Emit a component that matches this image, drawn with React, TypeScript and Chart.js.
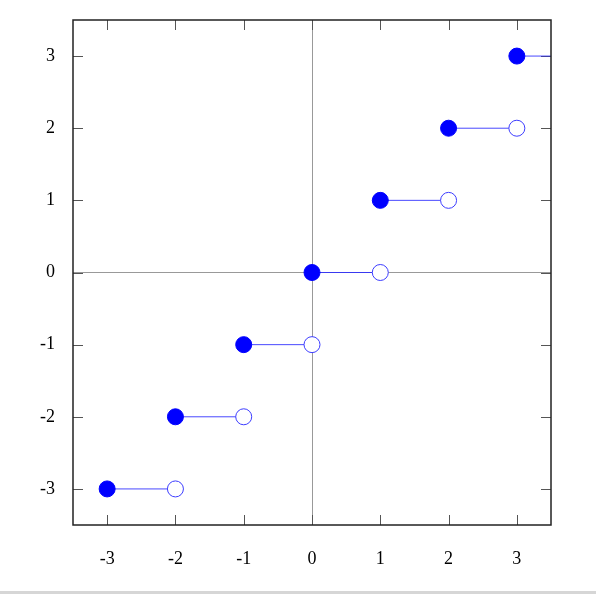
import React, { useEffect, useRef } from "react";
import { Chart, registerables } from "chart.js";

Chart.register(...registerables);

const stepStarts = [-3, -2, -1, 0, 1, 2, 3];
const stepValues = [-3, -2, -1, 0, 1, 2, 3];
const stepEnds = [-2, -1, 0, 1, 2, 3, 4];
const tickValues = [-3, -2, -1, 0, 1, 2, 3];
const axisMin = -3.5;
const axisMax = 3.5;

const BLUE = "#0000ff";

const framePlugin = {
  id: "frame",
  beforeDatasetsDraw(chart: any) {
    const { ctx, chartArea: a, scales } = chart;
    ctx.save();
    ctx.strokeStyle = "#555";
    ctx.lineWidth = 1;
    const tl = 10;
    for (const v of tickValues) {
      const x = Math.round(scales.x.getPixelForValue(v)) + 0.5;
      ctx.beginPath();
      ctx.moveTo(x, a.top);
      ctx.lineTo(x, a.top + tl);
      ctx.moveTo(x, a.bottom);
      ctx.lineTo(x, a.bottom - tl);
      ctx.stroke();
      const y = Math.round(scales.y.getPixelForValue(v)) + 0.5;
      ctx.beginPath();
      ctx.moveTo(a.left, y);
      ctx.lineTo(a.left + tl, y);
      ctx.moveTo(a.right, y);
      ctx.lineTo(a.right - tl, y);
      ctx.stroke();
    }
    ctx.restore();
  },
  afterDatasetsDraw(chart: any) {
    const { ctx, chartArea: a } = chart;
    ctx.save();
    ctx.strokeStyle = "#222";
    ctx.lineWidth = 1.5;
    ctx.strokeRect(a.left, a.top, a.right - a.left, a.bottom - a.top);
    ctx.restore();
  },
};

export default function App() {
  const ref = useRef<HTMLCanvasElement>(null);
  useEffect(() => {
    if (!ref.current) return;
    const segs = stepStarts.map((s, i) => ({
      type: "line" as const,
      data: [
        { x: s, y: stepValues[i] },
        { x: stepEnds[i], y: stepValues[i] },
      ],
      borderColor: "rgba(40,40,255,0.85)",
      borderWidth: 1,
      pointRadius: 0,
      showLine: true,
      order: 3,
    }));
    const chart = new Chart(ref.current, {
      type: "scatter",
      data: {
        datasets: [
          ...segs,
          {
            type: "scatter" as const,
            data: stepEnds.map((e, i) => ({ x: e, y: stepValues[i] })),
            pointRadius: 8,
            pointBackgroundColor: "#ffffff",
            pointBorderColor: "rgba(60,60,255,1)",
            pointBorderWidth: 1,
            order: 2,
          },
          {
            type: "scatter" as const,
            data: stepStarts.map((s, i) => ({ x: s, y: stepValues[i] })),
            pointRadius: 8,
            pointBackgroundColor: BLUE,
            pointBorderColor: BLUE,
            pointBorderWidth: 1,
            order: 1,
          },
        ] as any,
      },
      options: {
        animation: false,
        responsive: false,
        maintainAspectRatio: false,
        layout: { padding: { top: 20, right: 45, left: 0, bottom: 0 } },
        plugins: { legend: { display: false }, tooltip: { enabled: false } },
        scales: {
          x: {
            type: "linear",
            min: axisMin,
            max: axisMax,
            afterBuildTicks: (s: any) => {
              s.ticks = tickValues.map((v) => ({ value: v }));
            },
            afterFit: (s: any) => {
              s.height = 69;
              s.paddingLeft = 0;
              s.paddingRight = 0;
            },
            border: { display: false },
            grid: {
              drawTicks: false,
              color: (c: any) => (c.tick && c.tick.value === 0 ? "#999" : "transparent"),
              lineWidth: 1,
            },
            ticks: {
              padding: 23,
              color: "#000",
              font: { family: "'Liberation Serif', 'DejaVu Serif', serif", size: 18 },
              callback: (v: any) => String(v),
            },
          },
          y: {
            type: "linear",
            min: axisMin,
            max: axisMax,
            afterBuildTicks: (s: any) => {
              s.ticks = tickValues.map((v) => ({ value: v }));
            },
            afterFit: (s: any) => {
              s.width = 73;
              s.paddingTop = 0;
              s.paddingBottom = 0;
            },
            border: { display: false },
            grid: {
              drawTicks: false,
              color: (c: any) => (c.tick && c.tick.value === 0 ? "#999" : "transparent"),
              lineWidth: 1,
            },
            ticks: {
              padding: 18,
              color: "#000",
              font: { family: "'Liberation Serif', 'DejaVu Serif', serif", size: 18 },
              callback: (v: any) => String(v),
            },
          },
        },
      },
      plugins: [framePlugin],
    });
    return () => chart.destroy();
  }, []);
  return (
    <div style={{ position: "absolute", left: 0, top: 0, width: 596, height: 594, background: "#fff" }}>
      <canvas ref={ref} width={596} height={594} style={{ display: "block" }} />
      <div style={{ position: "absolute", left: 0, top: 591, width: 596, height: 3, background: "#d6d6d6" }} />
    </div>
  );
}
